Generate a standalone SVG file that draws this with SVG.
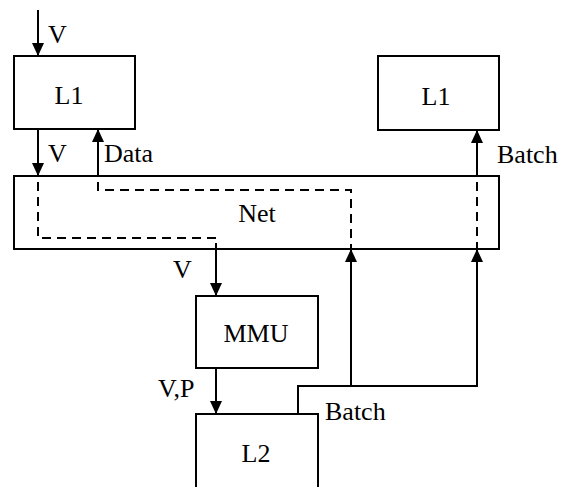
<svg xmlns="http://www.w3.org/2000/svg" width="564" height="487" viewBox="0 0 564 487">
<style>
.box{fill:#fff;stroke:#000;stroke-width:2}
.ln{fill:none;stroke:#000;stroke-width:2}
.dash{fill:none;stroke:#000;stroke-width:2;stroke-dasharray:9,6}
.t{font-family:'Liberation Serif','Times New Roman','DejaVu Serif',serif;font-size:26px;fill:#000}
.c{text-anchor:middle}
</style>
<defs>
<marker id="ah" markerUnits="userSpaceOnUse" markerWidth="14" markerHeight="14" viewBox="0 0 14 14" refX="13" refY="7" orient="auto">
<path d="M0,1 L13,7 L0,13 Z" fill="#000"/>
</marker>
</defs>
<g id="net"><rect class="box" x="14" y="176" width="485" height="73"/><text class="t c" x="257" y="222">Net</text></g>
<g id="l1-left"><rect class="box" x="14" y="56" width="121" height="73"/><text class="t c" x="69" y="104">L1</text></g>
<g id="l1-right"><rect class="box" x="378" y="56" width="121" height="74"/><text class="t c" x="436" y="105">L1</text></g>
<g id="mmu"><rect class="box" x="196" y="296" width="122" height="72"/><text class="t c" x="256" y="342">MMU</text></g>
<g id="l2"><rect class="box" x="196" y="414" width="122" height="80"/><text class="t c" x="256" y="462">L2</text></g>
<g id="connectors">
<line class="ln" x1="38" y1="10" x2="38" y2="56" marker-end="url(#ah)"/>
<line class="ln" x1="38" y1="129" x2="38" y2="176" marker-end="url(#ah)"/>
<line class="ln" x1="98" y1="176" x2="98" y2="129" marker-end="url(#ah)"/>
<line class="ln" x1="477" y1="176" x2="477" y2="130" marker-end="url(#ah)"/>
<polyline class="dash" points="38,182 38,238 216,238 216,249"/>
<polyline class="dash" points="98,182 98,190 351,190 351,249"/>
<line class="dash" x1="477" y1="182" x2="477" y2="249"/>
<line class="ln" x1="216" y1="243" x2="216" y2="296" marker-end="url(#ah)"/>
<line class="ln" x1="216" y1="368" x2="216" y2="414" marker-end="url(#ah)"/>
<polyline class="ln" points="298,414 298,386 477,386 477,249" marker-end="url(#ah)"/>
<line class="ln" x1="351" y1="386" x2="351" y2="249" marker-end="url(#ah)"/>
</g>
<g id="labels">
<text class="t" x="48" y="43">V</text>
<text class="t" x="48" y="162">V</text>
<text class="t" x="104" y="162">Data</text>
<text class="t" x="497" y="163">Batch</text>
<text class="t" x="173" y="278">V</text>
<text class="t" x="158" y="397">V,P</text>
<text class="t" x="325" y="420">Batch</text>
</g>
</svg>
